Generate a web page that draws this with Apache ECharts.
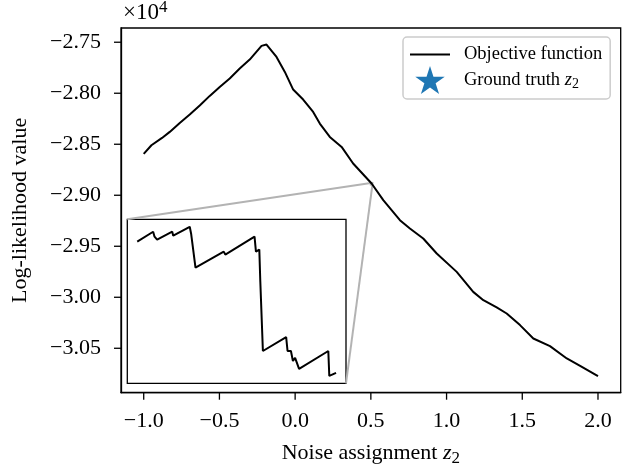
<!DOCTYPE html>
<html>
<head>
<meta charset="utf-8">
<script src="https://cdn.jsdelivr.net/npm/echarts@6/dist/echarts.min.js"></script>
<style>
  html, body { margin: 0; padding: 0; background: #fff; }
  #chart { width: 627px; height: 465px; background: #fff; }
</style>
</head>
<body>
<div id="chart"></div>
<script>
// Objective function sampled over the noise assignment z2 (values in raw units; axis shows ×10^4)
const zValues = [-1.0, -0.949, -0.879, -0.828, -0.762, -0.696, -0.630, -0.564, -0.498, -0.432,
  -0.366, -0.300, -0.222, -0.211, -0.189, -0.123, -0.068, -0.013, 0.053, 0.119,
  0.163, 0.229, 0.307, 0.383, 0.505, 0.582, 0.692, 0.758, 0.846, 0.935,
  1.067, 1.176, 1.243, 1.331, 1.397, 1.485, 1.573, 1.683, 1.794, 1.882, 2.0];
const logLik = [-28595, -28510, -28438, -28379, -28291, -28209, -28120, -28026, -27938, -27856,
  -27758, -27670, -27536, -27523, -27523, -27644, -27791, -27964, -28062, -28183,
  -28297, -28428, -28526, -28689, -28885, -29048, -29244, -29326, -29424, -29571,
  -29751, -29947, -30029, -30100, -30159, -30273, -30404, -30479, -30600, -30672, -30773];

// Fine-grained samples around z2 ≈ 0.505 shown in the magnified panel
const zoomZ = [0.50000, 0.50080, 0.50087, 0.50100, 0.50176, 0.50181, 0.50187, 0.50264, 0.50271, 0.50281,
  0.50293, 0.50435, 0.50443, 0.50590, 0.50597, 0.50614, 0.50619, 0.50627, 0.50632, 0.50749,
  0.50756, 0.50773, 0.50783, 0.50794, 0.50814, 0.50961, 0.50966, 0.51000];
const zoomLogLik = [-28881.5, -28880.5, -28881.0, -28881.3, -28880.5, -28880.9, -28881.0, -28880.0, -28880.7, -28880.7,
  -28884.1, -28882.5, -28882.8, -28881.0, -28882.5, -28882.3, -28885.5, -28885.7, -28892.5, -28891.1,
  -28892.5, -28892.5, -28893.5, -28893.2, -28894.3, -28892.5, -28895.0, -28894.7];

// Tick positions
const xTicks = [-1.0, -0.5, 0.0, 0.5, 1.0, 1.5, 2.0];
const yTicks = [-30500, -30000, -29500, -29000, -28500, -28000, -27500];

const FONT = '"Liberation Serif", "Times New Roman", serif';
const STAR = 'path://M50,0 L61.2,34.5 L97.6,34.5 L68.2,55.9 L79.4,90.5 L50,69.1 L20.6,90.5 L31.8,55.9 L2.4,34.5 L38.8,34.5 Z';
const LINE_ICON = 'path://M0,0 H40 V2 H0 Z';
const TICK_LEN = 7;

// Autoscale with 5% padding on each side
function padded(arr) {
  const lo = Math.min(...arr), hi = Math.max(...arr), m = (hi - lo) * 0.05;
  return [lo - m, hi + m];
}
const [xMin, xMax] = padded(zValues);
const [yMin, yMax] = padded(logLik);
const [zxMin, zxMax] = padded(zoomZ);
const [zyMin, zyMax] = padded(zoomLogLik);

const minus = s => s.replace('-', '\u2212');

const chart = echarts.init(document.getElementById('chart'));

const labelStyle = { fontFamily: FONT, fontSize: 22, color: '#000' };

// Short outward tick drawn from a data position (bottom spine for x, left spine for y)
function tickItem(dir) {
  return function (params, api) {
    const pt = api.coord([api.value(0), api.value(1)]);
    const shape = dir === 'x'
      ? { x1: pt[0], y1: pt[1], x2: pt[0], y2: pt[1] + TICK_LEN }
      : { x1: pt[0] - TICK_LEN, y1: pt[1], x2: pt[0], y2: pt[1] };
    return { type: 'line', shape: shape, style: { stroke: '#000', lineWidth: 1.3 } };
  };
}

const option = {
  animation: false,
  grid: [
    { left: 121, top: 28, right: 6.3, bottom: 72.3, show: true, borderColor: '#000', borderWidth: 1.3,
      containLabel: false, outerBoundsMode: 'none' },
    { left: 127.3, top: 219.3, width: 218.7, height: 164, show: true, borderColor: '#000', borderWidth: 1.3,
      backgroundColor: '#ffffff', containLabel: false, outerBoundsMode: 'none' }
  ],
  xAxis: [
    {
      type: 'value', gridIndex: 0, min: xMin, max: xMax,
      axisLine: { show: true, onZero: false, lineStyle: { color: '#000', width: 1.3 } }, splitLine: { show: false },
      axisTick: { show: false },
      axisLabel: Object.assign({ customValues: xTicks, formatter: v => minus(v.toFixed(1)), margin: 18 }, labelStyle),
      name: '{t|Noise assignment }{i|z}{s|2}', nameLocation: 'middle', nameGap: 47,
      nameTextStyle: {
        rich: {
          t: { fontFamily: FONT, fontSize: 22, color: '#000' },
          i: { fontFamily: FONT, fontSize: 22, fontStyle: 'italic', color: '#000' },
          s: { fontFamily: FONT, fontSize: 17, color: '#000', padding: [10, 0, 0, 0] }
        }
      }
    },
    { type: 'value', gridIndex: 1, min: zxMin, max: zxMax, show: false, splitLine: { show: false } }
  ],
  yAxis: [
    {
      type: 'value', gridIndex: 0, min: yMin, max: yMax,
      axisLine: { show: true, onZero: false, lineStyle: { color: '#000', width: 1.3 } }, splitLine: { show: false },
      axisTick: { show: false },
      axisLabel: Object.assign({ customValues: yTicks, formatter: v => minus((v / 1e4).toFixed(2)), margin: 20 }, labelStyle),
      name: 'Log-likelihood value', nameLocation: 'middle', nameRotate: 90, nameGap: 90,
      nameTextStyle: { fontFamily: FONT, fontSize: 22, color: '#000' }
    },
    { type: 'value', gridIndex: 1, min: zyMin, max: zyMax, show: false, splitLine: { show: false } }
  ],
  legend: {
    orient: 'vertical', left: 403, top: 37,
    padding: [8, 8, 5, 7], itemWidth: 40, itemHeight: 28, itemGap: 2,
    backgroundColor: 'rgba(255,255,255,0.8)', borderColor: '#cccccc', borderWidth: 1.5, borderRadius: 4,
    textStyle: {
      fontFamily: FONT, fontSize: 18.5, color: '#000', padding: [0, 0, 0, 9],
      rich: {
        r: { fontFamily: FONT, fontSize: 18.5, color: '#000' },
        i: { fontFamily: FONT, fontSize: 18.5, fontStyle: 'italic', color: '#000' },
        s: { fontFamily: FONT, fontSize: 14, color: '#000', padding: [9, 0, 0, 0] }
      }
    },
    formatter: name => name === 'Ground truth z2' ? '{r|Ground truth }{i|z}{s|2}' : name,
    data: [
      { name: 'Objective function', icon: LINE_ICON, itemStyle: { color: '#000' } },
      { name: 'Ground truth z2', icon: STAR, itemStyle: { color: '#1f77b4', opacity: 1 } }
    ]
  },
  series: [
    {
      name: 'Objective function', type: 'line', xAxisIndex: 0, yAxisIndex: 0,
      data: zValues.map((z, i) => [z, logLik[i]]),
      symbol: 'none', lineStyle: { color: '#000', width: 2 }, itemStyle: { color: '#000' }, z: 3
    },
    {
      name: 'Ground truth z2', type: 'scatter', xAxisIndex: 0, yAxisIndex: 0,
      data: [], symbol: STAR, symbolSize: 26, itemStyle: { color: '#1f77b4', opacity: 1 }
    },
    {
      name: 'Objective function (zoom)', type: 'line', xAxisIndex: 1, yAxisIndex: 1,
      data: zoomZ.map((z, i) => [z, zoomLogLik[i]]),
      symbol: 'none', lineStyle: { color: '#000', width: 2 }, z: 6
    },
    {
      type: 'custom', xAxisIndex: 0, yAxisIndex: 0, clip: false, silent: true, z: 20,
      data: xTicks.map(v => [v, yMin]), renderItem: tickItem('x')
    },
    {
      type: 'custom', xAxisIndex: 0, yAxisIndex: 0, clip: false, silent: true, z: 20,
      data: yTicks.map(v => [xMin, v]), renderItem: tickItem('y')
    }
  ]
};

chart.setOption(option);

// Zoom marker: rectangle around the magnified region and connectors to the inset corners
const p = (g, v) => chart.convertToPixel({ gridIndex: g }, v);
const insetTL = p(1, [zxMin, zyMax]);
const insetBR = p(1, [zxMax, zyMin]);
const regTL = p(0, [zxMin, zyMax]);
const regBR = p(0, [zxMax, zyMin]);

chart.setOption({
  graphic: [
    { type: 'rect', z: 1, shape: { x: regTL[0], y: regTL[1], width: regBR[0] - regTL[0], height: regBR[1] - regTL[1] },
      style: { fill: 'none', stroke: '#b3b3b3', lineWidth: 2 } },
    { type: 'line', z: 1, shape: { x1: insetTL[0], y1: insetTL[1], x2: regTL[0], y2: regTL[1] },
      style: { stroke: '#b3b3b3', lineWidth: 2 } },
    { type: 'line', z: 1, shape: { x1: insetBR[0], y1: insetBR[1], x2: regBR[0], y2: regBR[1] },
      style: { stroke: '#b3b3b3', lineWidth: 2 } },
    { type: 'text', left: 123, top: -1, z: 100,
      style: { text: '×10{s|4}', fontFamily: FONT, fontSize: 23, fill: '#000',
        rich: { s: { fontFamily: FONT, fontSize: 17, fill: '#000', padding: [0, 0, 10, 0] } } } }
  ]
});
</script>
</body>
</html>
